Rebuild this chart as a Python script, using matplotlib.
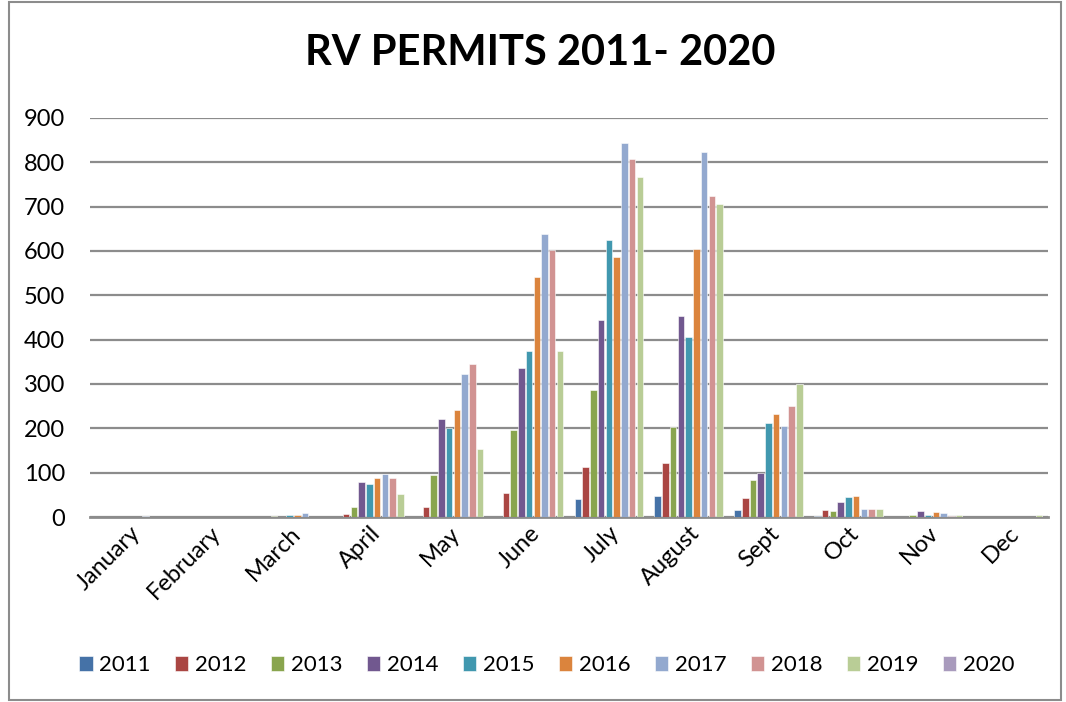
import matplotlib.pyplot as plt
import numpy as np

months = ['January', 'February', 'March', 'April', 'May', 'June',
          'July', 'August', 'Sept', 'Oct', 'Nov', 'Dec']
years = ['2011', '2012', '2013', '2014', '2015', '2016', '2017', '2018', '2019', '2020']

# permits per month, one list per year
p2011 = [0, 0, 0, 0, 0, 0, 41, 48, 16, 3, 0, 0]
p2012 = [0, 0, 0, 6, 23, 54, 113, 122, 43, 16, 0, 0]
p2013 = [0, 0, 2, 22, 94, 197, 287, 202, 83, 14, 5, 0]
p2014 = [0, 0, 0, 78, 220, 335, 445, 453, 100, 35, 14, 0]
p2015 = [0, 0, 5, 75, 201, 374, 625, 407, 213, 46, 5, 0]
p2016 = [0, 0, 5, 88, 241, 542, 586, 605, 232, 48, 12, 0]
p2017 = [3, 1, 10, 98, 322, 638, 844, 823, 206, 17, 8, 1]
p2018 = [1, 1, 0, 88, 345, 602, 808, 723, 250, 17, 3, 0]
p2019 = [0, 0, 0, 51, 153, 374, 767, 707, 299, 17, 4, 5]
p2020 = [0, 0, 0, 0, 0, 0, 0, 0, 0, 0, 0, 0]
series = [p2011, p2012, p2013, p2014, p2015, p2016, p2017, p2018, p2019, p2020]

colors = ['#4572A7', '#AA4643', '#89A54E', '#71588F', '#4198AF',
          '#DB843D', '#93A9CF', '#D19392', '#B9CD96', '#A99BBD']

plt.rcParams['font.family'] = ['Lato', 'DejaVu Sans']

fig = plt.figure(figsize=(10.66, 7.02), dpi=100)
ax = fig.add_axes([0.0844, 0.2635, 0.8986, 0.5685])

x = np.arange(len(months))
w = 0.097
for i, vals in enumerate(series):
    ax.bar(x - 0.4365 + w * (i + 0.5), vals, width=w * 0.84, color=colors[i],
           edgecolor='white', linewidth=0.4, label=years[i], zorder=3)

ax.set_xlim(-0.5, 11.5)
ax.set_ylim(0, 900)
ax.set_yticks(range(0, 901, 100))
ax.yaxis.grid(True, color='#8c8c8c', linewidth=1.6, zorder=0)
ax.tick_params(axis='y', length=0, labelsize=17, pad=18)
ax.tick_params(axis='x', length=0, labelsize=17, pad=4)
ax.set_xticks(x)
ax.set_xticklabels(months, rotation=45, ha='right', rotation_mode='anchor')
for s in ['left', 'right', 'top']:
    ax.spines[s].set_visible(False)
ax.spines['bottom'].set_color('#8c8c8c')
ax.spines['bottom'].set_linewidth(2)

fig.text(0.507, 0.925, 'RV PERMITS 2011- 2020', ha='center', va='center',
         fontsize=30, fontweight='bold')

fig.legend(loc='center', bbox_to_anchor=(0.513, 0.052), ncol=10, frameon=False,
           fontsize=16, handlelength=0.6, handleheight=0.7, handletextpad=0.3,
           columnspacing=1.1)

# outer chart border
fig.patches.append(plt.Rectangle((0.008, 0.003), 0.987, 0.994, transform=fig.transFigure,
                                 fill=False, edgecolor='#8c8c8c', linewidth=1.5))

fig.savefig('out.png', dpi=100)
